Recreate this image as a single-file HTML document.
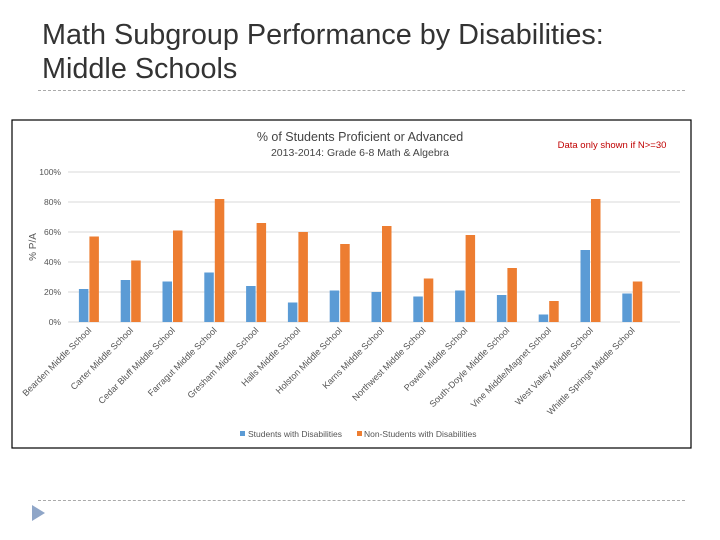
<!DOCTYPE html>
<html><head><meta charset="utf-8"><style>
body{margin:0;width:720px;height:540px;background:#fff;overflow:hidden;position:relative;font-family:"Liberation Sans",sans-serif}
.title{position:absolute;left:42px;top:18px;font-size:28.8px;line-height:34px;color:#333}
.dash{position:absolute;left:38px;width:647px;border-top:1px dashed #aaa}
</style></head><body>
<div class="title">Math Subgroup Performance by Disabilities:<br>Middle Schools</div>
<div class="dash" style="top:90px"></div>
<div class="dash" style="top:500px"></div>
<svg style="position:absolute;left:32px;top:505px" width="14" height="16"><polygon points="0,0 13,8 0,16" fill="#8fa6c8"/></svg>
<svg id="chart" style="position:absolute;left:0;top:0" width="720" height="540">
<rect x="12" y="120" width="679" height="328" fill="#fff" stroke="#000" stroke-width="1.2"/>
<text x="360" y="141" text-anchor="middle" font-size="12.5" fill="#444">% of Students Proficient or Advanced</text>
<text x="360" y="156" text-anchor="middle" font-size="10.5" fill="#444">2013-2014:  Grade 6-8 Math &amp; Algebra</text>
<text x="612" y="148" text-anchor="middle" font-size="9.5" fill="#c00000">Data only shown if N&gt;=30</text>
<text transform="translate(36,247) rotate(-90)" text-anchor="middle" font-size="10" fill="#555">% P/A</text>
<g id="plot"></g>
<rect x="240" y="431" width="5" height="5" fill="#5b9bd5"/>
<text x="248" y="437" font-size="8.5" fill="#555">Students with Disabilities</text>
<rect x="357" y="431" width="5" height="5" fill="#ed7d31"/>
<text x="364" y="437" font-size="8.5" fill="#555">Non-Students with Disabilities</text>
</svg>
<script>
const categories=["Bearden Middle School","Carter Middle School","Cedar Bluff Middle School","Farragut Middle School","Gresham Middle School","Halls Middle School","Holston Middle School","Karns Middle School","Northwest Middle School","Powell Middle School","South-Doyle Middle School","Vine Middle/Magnet School","West Valley Middle School","Whittle Springs Middle School"];
const swdValues=[22,28,27,33,24,13,21,20,17,21,18,5,48,19];
const nonSwdValues=[57,41,61,82,66,60,52,64,29,58,36,14,82,27];
const yTicks=[0,20,40,60,80,100];
const NS="http://www.w3.org/2000/svg";
const g=document.getElementById('plot');
const x0=68,bandW=41.8,yTop=172,yBot=322;
const y=v=>yBot-(v/100)*(yBot-yTop);
const xc=i=>x0+bandW*(i+0.5);
function mk(t,a){const e=document.createElementNS(NS,t);for(const k in a)e.setAttribute(k,a[k]);g.appendChild(e);return e;}
yTicks.forEach(t=>{
 const l=mk('line',{x1:x0,x2:680,y1:y(t),y2:y(t),stroke:'#d9d9d9','stroke-width':1});
 
 
 const tx=mk('text',{x:61,y:y(t)+3,'text-anchor':'end','font-size':8.5,fill:'#555'});
 tx.textContent=t+'%';
 
 
});
categories.forEach((c,i)=>{
 const b1=mk('rect',{x:xc(i)-10,y:y(swdValues[i]),width:9.5,height:y(0)-y(swdValues[i]),fill:'#5b9bd5'});
 
 
 const b2=mk('rect',{x:xc(i)+0.5,y:y(nonSwdValues[i]),width:9.5,height:y(0)-y(nonSwdValues[i]),fill:'#ed7d31'});
 
 
 const t=mk('text',{transform:`translate(${xc(i)+3},${yBot+9}) rotate(-45)`,'text-anchor':'end','font-size':9,fill:'#555'});
 t.textContent=c;
 
 
});
</script>
</body></html>
